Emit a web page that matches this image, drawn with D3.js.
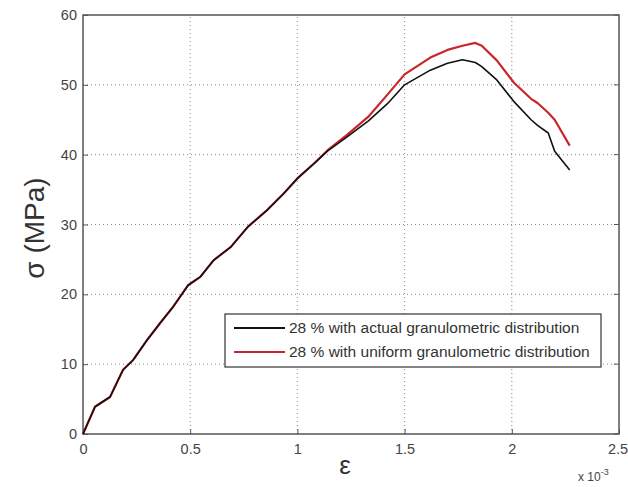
<!DOCTYPE html>
<html>
<head>
<meta charset="utf-8">
<script src="https://cdn.jsdelivr.net/npm/d3@7"></script>
<style>
  body { margin: 0; background: #fff; }
  svg { display: block; }
</style>
</head>
<body>
<script>
// strain (x 10^-3) and stress (MPa)
const strain = [0, 0.056, 0.126, 0.187, 0.234, 0.3, 0.36, 0.42, 0.49, 0.547, 0.61, 0.69, 0.77, 0.86, 0.935, 1.0, 1.08, 1.14, 1.23, 1.33, 1.42, 1.5, 1.62, 1.7, 1.77, 1.83, 1.86, 1.93, 2.01, 2.09, 2.12, 2.17, 2.2, 2.27];
const stressActual = [0, 3.9, 5.3, 9.2, 10.6, 13.5, 15.9, 18.2, 21.3, 22.5, 24.9, 26.8, 29.7, 32.1, 34.4, 36.6, 38.8, 40.5, 42.5, 44.8, 47.3, 50.0, 52.1, 53.1, 53.6, 53.2, 52.6, 50.7, 47.6, 45.0, 44.2, 43.1, 40.5, 37.8];
const stressUniform = [0, 3.9, 5.3, 9.2, 10.6, 13.5, 15.9, 18.2, 21.3, 22.5, 24.9, 26.8, 29.7, 32.1, 34.4, 36.6, 38.8, 40.6, 42.8, 45.4, 48.6, 51.5, 53.9, 55.0, 55.6, 56.0, 55.6, 53.5, 50.3, 48.0, 47.4, 46.0, 45.0, 41.3];
const seriesNames = ["28 % with actual granulometric distribution", "28 % with uniform granulometric distribution"];
const seriesColors = ["#111", "#c8262b"];
const xTicks = [0, 0.5, 1, 1.5, 2, 2.5];
const yTicks = [0, 10, 20, 30, 40, 50, 60];

const W = 628, H = 487;
const m = {left: 83, right: 9, top: 15, bottom: 53};

const x = d3.scaleLinear().domain([0, 2.5]).range([m.left, W - m.right]);
const y = d3.scaleLinear().domain([0, 60]).range([H - m.bottom, m.top]);

const svg = d3.select("body").append("svg")
    .attr("width", W)
    .attr("height", H)
    .style("font-family", "'Liberation Sans', Arial, sans-serif");

// grid
const grid = svg.append("g")
    .attr("stroke", "#888")
    .attr("stroke-width", 1)
    .attr("stroke-dasharray", "1,3");
grid.selectAll("line.v").data(xTicks.slice(1, -1)).join("line")
    .attr("x1", d => x(d)).attr("x2", d => x(d))
    .attr("y1", y(0)).attr("y2", y(60));
grid.selectAll("line.h").data(yTicks.slice(1, -1)).join("line")
    .attr("x1", x(0)).attr("x2", x(2.5))
    .attr("y1", d => y(d)).attr("y2", d => y(d));

// axes (ticks inside, MATLAB style)
svg.append("g")
    .attr("transform", `translate(0,${y(0)})`)
    .call(d3.axisBottom(x).tickValues(xTicks).tickSize(-5).tickPadding(10).tickFormat(d3.format("")))
    .call(g => g.select(".domain").remove())
    .call(g => g.selectAll("line").attr("stroke", "#555"))
    .call(g => g.selectAll("text").attr("font-size", 14.5).attr("fill", "#444"))
    .call(g => g.selectAll("text").filter(d => d === 2.5).attr("dx", -1.5));

svg.append("g")
    .attr("transform", `translate(${x(0)},0)`)
    .call(d3.axisLeft(y).tickValues(yTicks).tickSize(-5).tickPadding(6))
    .call(g => g.select(".domain").remove())
    .call(g => g.selectAll("line").attr("stroke", "#555"))
    .call(g => g.selectAll("text").attr("font-size", 14.5).attr("fill", "#444"));

// right-side ticks
svg.append("g")
    .attr("stroke", "#555")
  .selectAll("line").data(yTicks).join("line")
    .attr("x1", x(2.5) - 5).attr("x2", x(2.5))
    .attr("y1", d => y(d)).attr("y2", d => y(d));

// frame
svg.append("rect")
    .attr("x", x(0)).attr("y", y(60))
    .attr("width", x(2.5) - x(0)).attr("height", y(0) - y(60))
    .attr("fill", "none")
    .attr("stroke", "#555")
    .attr("stroke-width", 1.5);

// curves
const line = d3.line().x(d => x(d[0])).y(d => y(d[1]));
svg.append("path")
    .datum(d3.zip(strain, stressUniform))
    .attr("fill", "none").attr("stroke", seriesColors[1]).attr("stroke-width", 2.2)
    .attr("stroke-linejoin", "round")
    .attr("d", line);
svg.append("path")
    .datum(d3.zip(strain, stressActual))
    .attr("fill", "none").attr("stroke", seriesColors[0]).attr("stroke-width", 1.6)
    .attr("stroke-linejoin", "round")
    .attr("d", line);

// axis labels
svg.append("text")
    .attr("x", 345).attr("y", 474)
    .attr("text-anchor", "middle")
    .attr("font-size", 26).attr("fill", "#333")
    .text("ε");
svg.append("text")
    .attr("transform", "translate(44,228) rotate(-90)")
    .attr("text-anchor", "middle")
    .attr("font-size", 28).attr("fill", "#333")
    .text("σ (MPa)");
const exp = svg.append("text")
    .attr("x", 578).attr("y", 481)
    .attr("font-size", 12).attr("fill", "#444");
exp.append("tspan").text("x 10");
exp.append("tspan").attr("dy", -6).attr("font-size", 9).text("-3");

// legend
const lg = svg.append("g").attr("transform", "translate(225,314)");
lg.append("rect")
    .attr("width", 376).attr("height", 53)
    .attr("fill", "#fff").attr("stroke", "#333").attr("stroke-width", 1.2);
seriesNames.forEach((name, i) => {
  const yy = 14 + i * 24;
  lg.append("line")
      .attr("x1", 9).attr("x2", 60).attr("y1", yy).attr("y2", yy)
      .attr("stroke", seriesColors[i]).attr("stroke-width", 2);
  lg.append("text")
      .attr("x", 64).attr("y", yy + 5)
      .attr("font-size", 15.5).attr("fill", "#333")
      .text(name);
});
</script>
</body>
</html>
